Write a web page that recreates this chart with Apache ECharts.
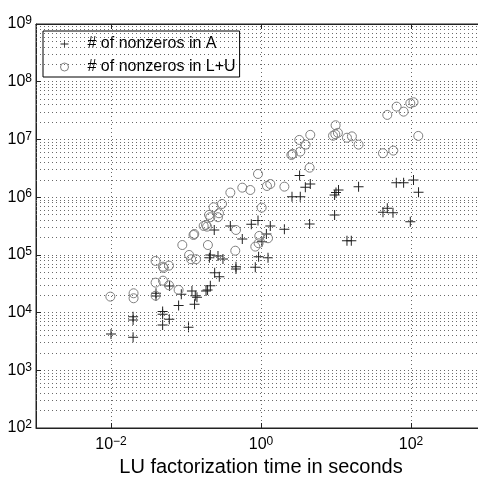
<!DOCTYPE html>
<html>
<head>
<meta charset="utf-8">
<script src="https://cdn.jsdelivr.net/npm/echarts@6/dist/echarts.min.js"></script>
<style>html,body{margin:0;padding:0;background:#fff;}#c{width:478px;height:479px;}</style>
</head>
<body>
<div id="c"></div>
<script>
// LU factorization time (s) and number of nonzeros in A
const timeA = [0.0100,0.0197,0.0197,0.0197,0.0398,0.0398,0.0488,0.0488,0.0599,0.0488,0.0604,0.0797,0.0866,0.108,0.120,0.133,0.140,0.130,0.185,0.194,0.211,0.241,0.278,0.205,0.211,0.267,0.311,0.238,0.390,0.563,0.464,0.464,0.743,0.912,1.33,2.05,1.18,1.03,0.929,1.24,0.839,4.45,2.59,3.34,3.27,3.90,4.54,9.58,10.0,10.8,9.58,20.0,14.0,16.0,42.3,48.3,57.5,63.7,79.7,108,126,97.9];
const nnzA  = [4250,8490,7450,3730,21600,19400,10400,9350,7650,6100,28900,13200,20700,5560,23700,19600,18400,13900,23700,24700,29200,49200,41900,89300,99600,95700,84900,270000,317000,189000,62400,57000,339000,392000,317000,278000,230000,169000,93100,89300,61000,343000,1020000,1020000,2360000,1490000,1690000,1090000,1200000,1330000,492000,1520000,176000,176000,547000,643000,538000,1780000,1780000,1990000,1220000,376000];
// LU factorization time (s) and number of nonzeros in L+U
const timeLU = [0.0098,0.020,0.020,0.0393,0.0493,0.0503,0.0593,0.0393,0.0493,0.0593,0.0393,0.0797,0.0893,0.110,0.117,0.136,0.126,0.129,0.172,0.185,0.191,0.203,0.211,0.267,0.275,0.233,0.302,0.390,0.563,0.720,0.196,0.464,0.454,0.912,1.20,1.33,2.05,1.02,0.949,1.24,0.839,0.929,2.54,2.64,3.34,3.24,3.93,4.54,4.45,9.88,9.12,9.79,10.6,14.0,16.3,20.0,42.3,58.1,48.3,64.3,79.7,97.9,108,125];
const nnzLU  = [18900,21600,17700,78400,62400,59300,65000,33000,35700,29700,19600,24700,148000,99600,84000,84000,221000,230000,317000,330000,308000,492000,449000,449000,526000,668000,762000,1200000,1460000,1330000,148000,270000,118000,2520000,1560000,1690000,1520000,658000,213000,194000,139000,159000,5380000,5610000,6150000,9800000,8130000,12000000,3240000,17600000,11600000,12300000,13000000,10700000,11300000,8130000,5770000,6400000,26600000,37000000,30300000,42400000,44100000,11500000];
// axis ticks (powers of ten)
const xTickExps = [-2, 0, 2];
const yTickExps = [2, 3, 4, 5, 6, 7, 8, 9];
const legendNames = ['# of nonzeros in A', '# of nonzeros in L+U'];
const xTitle = 'LU factorization time in seconds';

const minorY = [];
for (let k = yTickExps[0]; k < yTickExps[yTickExps.length - 1]; k++) {
  for (let m = 2; m <= 9; m++) minorY.push({ yAxis: m * Math.pow(10, k) });
}
function pairs(xs, ys) { return xs.map((x, i) => [x, ys[i]]); }
function sup(v, allowed) {
  const e = Math.log10(v);
  const r = Math.round(e);
  if (Math.abs(e - r) > 1e-6 || allowed.indexOf(r) < 0) return '';
  return '{b|10}{s|' + (r < 0 ? '\u2212' + (-r) : r) + '}';
}
const rich = {
  b: { fontSize: 16, fontFamily: 'Liberation Sans', color: '#000', lineHeight: 18 },
  s: { fontSize: 12, fontFamily: 'Liberation Sans', color: '#000', verticalAlign: 'top', lineHeight: 10 }
};
const dotted = { type: [1, 3], color: '#6a6a6a', width: 1 };
const plusPath = 'path://M0,4.5H10V5.5H0Z M4.5,0H5.5V10H4.5Z';

const chart = echarts.init(document.getElementById('c'), null, { renderer: 'canvas' });
chart.setOption({
  animation: false,
  backgroundColor: '#fff',
  grid: { left: 36, right: -8, top: 24, bottom: 51, outerBoundsMode: 'none', containLabel: false, show: true, borderColor: '#222', borderWidth: 1, backgroundColor: 'transparent' },
  legend: {
    orient: 'vertical', left: 43, top: 31,
    data: [
      { name: legendNames[0], icon: plusPath, itemStyle: { color: '#222', borderWidth: 0 } },
      { name: legendNames[1], icon: 'circle', itemStyle: { color: 'none', borderColor: '#808080', borderWidth: 1 } }
    ],
    itemWidth: 8, itemHeight: 8, itemGap: 7,
    padding: [5, 4, 2, 15],
    borderColor: '#000', borderWidth: 1, backgroundColor: '#fff',
    textStyle: { fontSize: 16, fontFamily: 'Liberation Sans', color: '#000', padding: [0, 0, 0, 14] }
  },
  xAxis: [{
    type: 'log', logBase: 100, min: 0.001, max: 1000,
    name: xTitle, nameLocation: 'middle', nameGap: 28,
    nameTextStyle: { fontSize: 20, fontFamily: 'Liberation Sans', color: '#000' },
    axisLine: { show: true, lineStyle: { color: '#222', width: 1 } },
    axisTick: { show: true, inside: true, length: 5, lineStyle: { color: '#222' } },
    axisLabel: { margin: 8, formatter: v => sup(v, xTickExps), rich: rich },
    splitLine: { show: true, lineStyle: dotted },
    minorTick: { show: false }, minorSplitLine: { show: false }
  }, {
    type: 'log', logBase: 100, min: 0.001, max: 1000, position: 'top',
    axisLine: { show: true, lineStyle: { color: '#222', width: 1 } },
    axisTick: { show: true, inside: true, length: 5, lineStyle: { color: '#222' } },
    axisLabel: { show: false }, splitLine: { show: false }
  }],
  yAxis: {
    type: 'log', logBase: 10, min: 100, max: 1e9,
    axisLine: { show: true, lineStyle: { color: '#222', width: 1 } },
    axisTick: { show: true, inside: true, length: 5, lineStyle: { color: '#222' } },
    axisLabel: { margin: 4, formatter: v => sup(v, yTickExps), rich: rich },
    splitLine: { show: true, lineStyle: dotted }
  },
  series: [{
    name: 'grid', type: 'scatter', data: [], z: 0, silent: true,
    markLine: { silent: true, symbol: ['none', 'none'], label: { show: false }, lineStyle: dotted, animation: false, data: minorY }
  }, {
    name: legendNames[0], type: 'scatter', data: pairs(timeA, nnzA), z: 3,
    symbol: plusPath, symbolSize: 10,
    itemStyle: { color: '#222', opacity: 1 }
  }, {
    name: legendNames[1], type: 'scatter', data: pairs(timeLU, nnzLU), z: 4,
    symbol: 'circle', symbolSize: 9,
    itemStyle: { color: 'none', borderColor: '#808080', borderWidth: 1, opacity: 1 }
  }]
});
</script>
</body>
</html>
